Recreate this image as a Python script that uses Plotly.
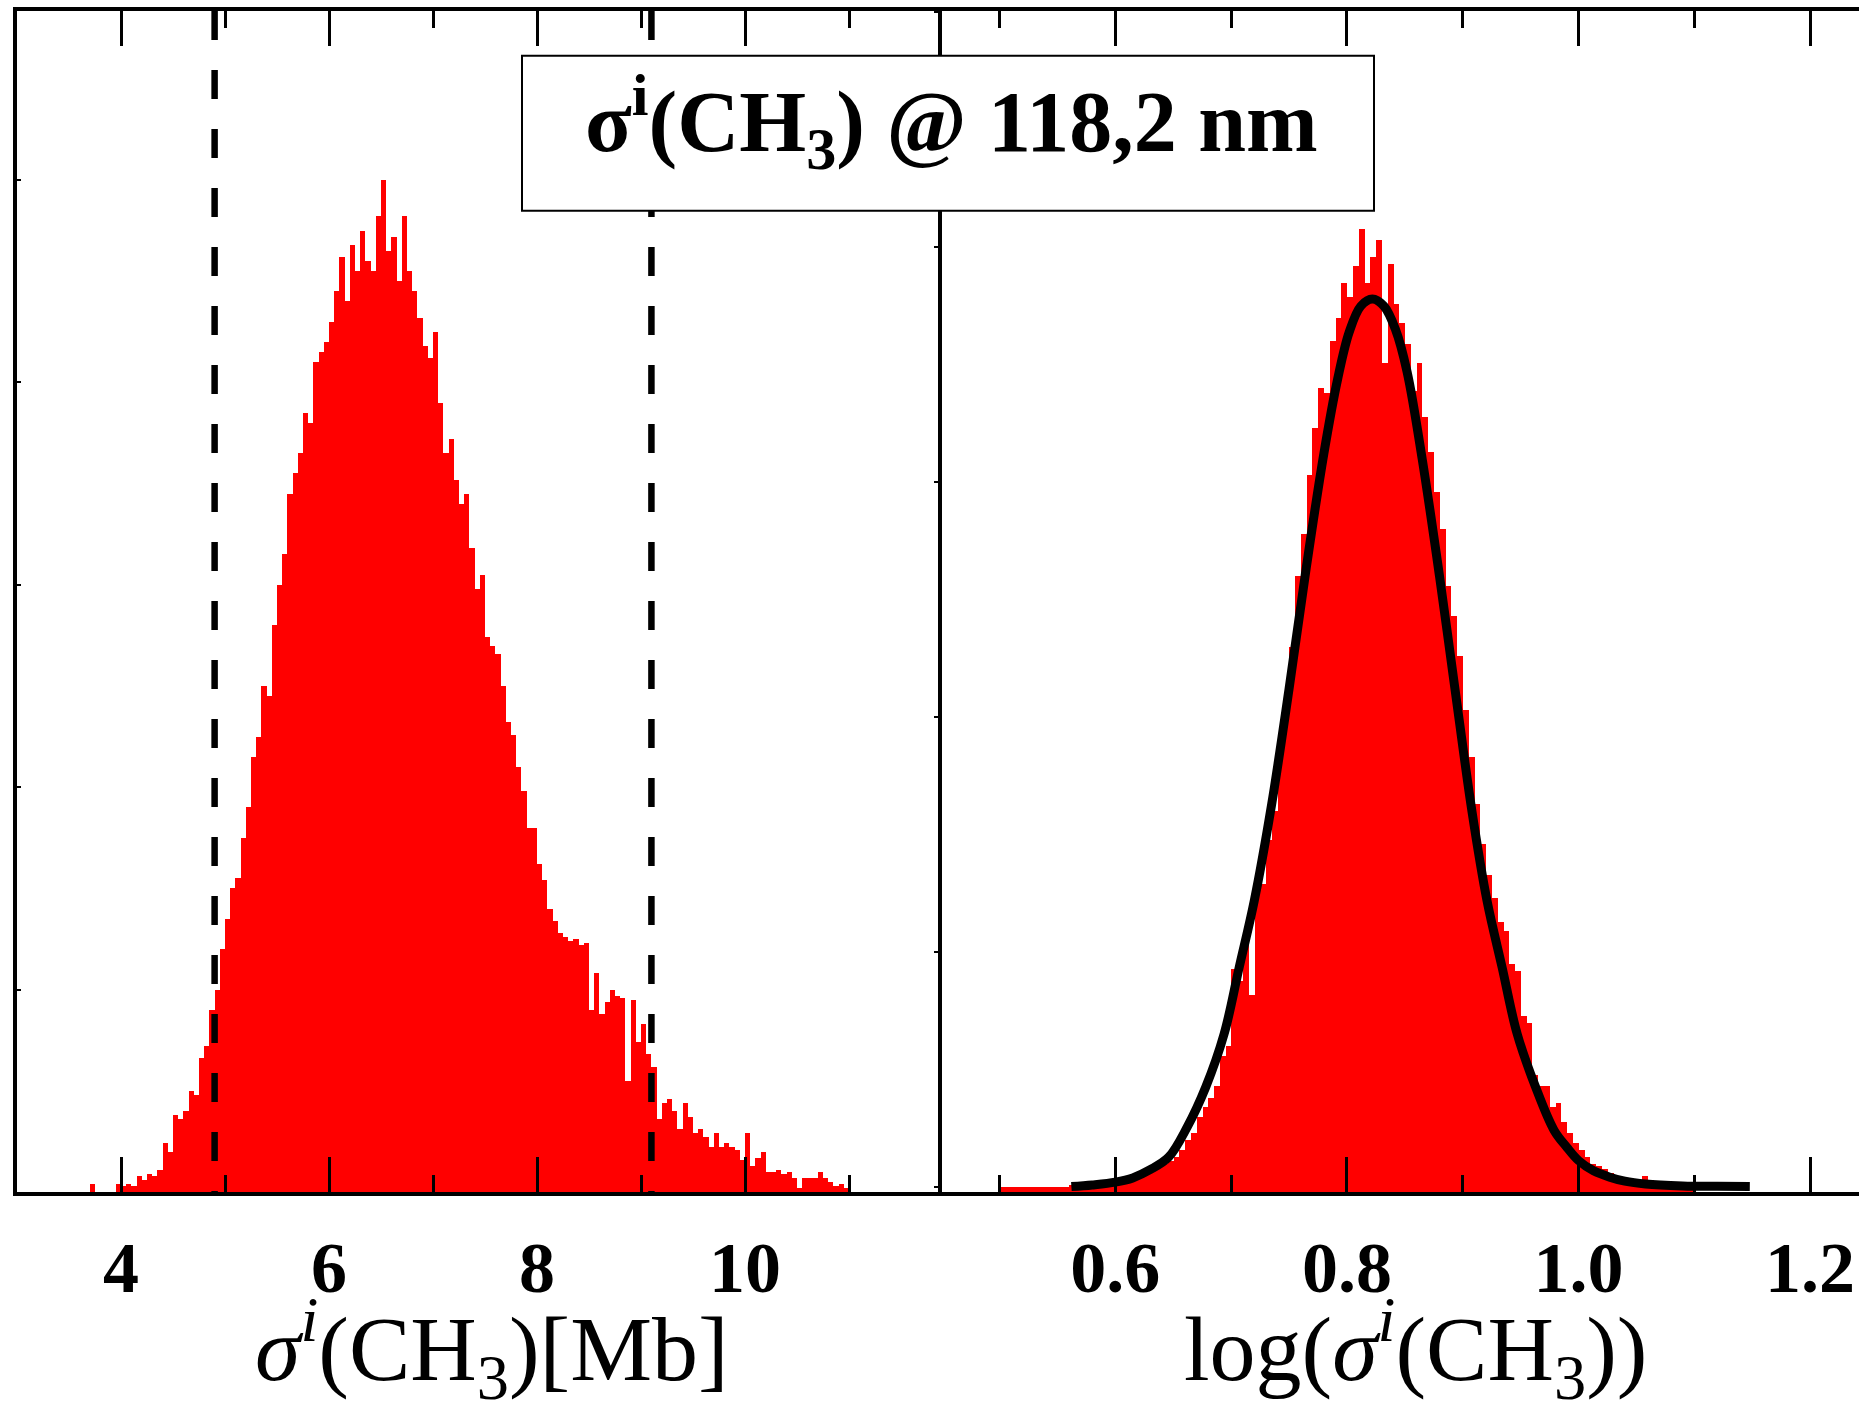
import numpy as np
import plotly.graph_objects as go

# ---------------------------------------------------------------------------
# Data
# ---------------------------------------------------------------------------
# Histogram of sigma^i(CH3) [Mb]: counts per bin, bins of fixed width
SIGMA_BIN_START = 3.65
SIGMA_BIN_WIDTH = 0.05
sigma_counts = [
    0, 4, 0, 0, 0, 0, 4, 3, 4, 3,
    8, 6, 9, 8, 11, 24, 20, 38, 36, 40,
    50, 48, 66, 72, 90, 100, 120, 135, 150, 155,
    175, 190, 215, 225, 250, 245, 280, 300, 315, 345,
    355, 365, 385, 380, 410, 415, 420, 430, 445, 462,
    440, 468, 455, 475, 460, 455, 482, 500, 465, 472,
    450, 482, 455, 445, 432, 418, 412, 425, 390, 365,
    372, 352, 340, 345, 318, 298, 305, 274, 270, 266,
    250, 232, 226, 210, 198, 180, 180, 162, 154, 140,
    134, 128, 126, 124, 125, 122, 123, 90, 108, 88,
    94, 100, 97, 96, 55, 95, 74, 83, 68, 62,
    36, 44, 46, 40, 31, 44, 37, 29, 31, 27,
    22, 29, 22, 24, 22, 21, 16, 29, 13, 17,
    20, 10, 10, 11, 9, 10, 7, 2, 7, 7,
    7, 10, 7, 5, 3, 4, 2,
]

# Histogram of log(sigma^i(CH3))
LOG_BIN_START = 0.500
LOG_BIN_WIDTH = 0.005
log_counts = [
    2, 2, 2, 2, 2, 2, 2, 2, 2, 2,
    2, 2, 3, 3, 3, 3, 4, 4, 4, 5,
    5, 6, 6, 7, 7, 8, 10, 11, 12, 13,
    15, 18, 22, 25, 32, 36, 40, 45, 58, 62,
    95, 90, 107, 84, 128, 131, 150, 162, 190, 212,
    232, 262, 280, 305, 325, 342, 340, 362, 372, 387,
    381, 394, 410, 387, 398, 405, 353, 395, 378, 370,
    361, 341, 353, 330, 315, 298, 282, 258, 245, 228,
    205, 185, 165, 148, 135, 125, 115, 111, 97, 94,
    75, 72, 50, 45, 45, 36, 38, 30, 25, 21,
    18, 15, 12, 11, 10, 8, 7, 6, 6, 4,
    5, 7, 5, 4, 3, 2, 2, 2, 1, 1,
]

# Gaussian fit of the log histogram (points along the fitted curve)
fit_x = [0.562, 0.580, 0.600, 0.615, 0.630, 0.646, 0.662, 0.678, 0.694, 0.707,
         0.720, 0.735, 0.750, 0.765, 0.780, 0.792, 0.802, 0.812, 0.822, 0.832,
         0.842, 0.852, 0.865, 0.880, 0.895, 0.908, 0.921, 0.934, 0.947, 0.963,
         0.979, 0.990, 1.000, 1.013, 1.027, 1.040, 1.058, 1.090, 1.120, 1.148]
fit_y = [2.3, 3.0, 4.2, 6.0, 9.5, 14.8, 27.6, 44.6, 67.4, 95.7,
         124, 165, 214, 266, 314, 346, 366, 377, 380, 377,
         367, 349, 312, 262, 208, 162, 124, 95.7, 67.4, 44.6,
         26.2, 19.0, 13.4, 9.0, 6.3, 4.6, 3.4, 2.6, 2.4, 2.3]

# Interval bounds marked by dashed lines [Mb]
interval_bounds = [4.90, 9.10]

sigma_ticks = [4, 6, 8, 10]
sigma_minor_ticks = [5, 7, 9, 11]
log_ticks = [0.6, 0.8, 1.0, 1.2]
log_tick_text = ["0.6", "0.8", "1.0", "1.2"]
log_minor_ticks = [0.5, 0.7, 0.9, 1.1]

title_text = "<b>σ<sup>i</sup>(CH<sub>3</sub>) @ 118,2 nm</b>"
xtitle_left = "<i>σ</i><sup><i>i</i></sup>(CH<sub>3</sub>)[Mb]"
xtitle_right = "log(<i>σ</i><sup><i>i</i></sup>(CH<sub>3</sub>))"

# ---------------------------------------------------------------------------
# Layout geometry (pixels)
# ---------------------------------------------------------------------------
W, H = 1859, 1424
M_L, M_R, M_T, M_B = 17, 0, 11, 232
PW = W - M_L - M_R
PH = H - M_T - M_B


def paper_x(px):
    return (px - M_L) / PW


def paper_y(py):
    return (H - M_B - py) / PH


SPLIT = paper_x(941.7)
Y1_MAX = 583.5
Y2_MAX = 502.6

FONT = "Liberation Serif"

sigma_centers = SIGMA_BIN_START + SIGMA_BIN_WIDTH * (np.arange(len(sigma_counts)) + 0.5)
log_centers = LOG_BIN_START + LOG_BIN_WIDTH * (np.arange(len(log_counts)) + 0.5)

fig = go.Figure()

fig.add_trace(go.Bar(
    x=sigma_centers, y=sigma_counts, width=SIGMA_BIN_WIDTH,
    marker=dict(color="#ff0000", line=dict(width=0)),
    xaxis="x", yaxis="y", hoverinfo="skip",
))

for b in interval_bounds:
    fig.add_trace(go.Scatter(
        x=[b, b], y=[Y1_MAX, 0], mode="lines",
        line=dict(color="black", width=6.5, dash="29px,30px"),
        xaxis="x", yaxis="y", hoverinfo="skip",
    ))

fig.add_trace(go.Bar(
    x=log_centers, y=log_counts, width=LOG_BIN_WIDTH,
    marker=dict(color="#ff0000", line=dict(width=0)),
    xaxis="x2", yaxis="y2", hoverinfo="skip",
))

fig.add_trace(go.Scatter(
    x=fit_x, y=fit_y, mode="lines",
    line=dict(color="black", width=9, shape="spline", smoothing=1.0),
    xaxis="x2", yaxis="y2", hoverinfo="skip",
))

tickfont = dict(family=FONT, size=72, color="black", weight="bold")

common_x = dict(
    ticks="inside", ticklen=35, tickwidth=3, tickcolor="black",
    showline=True, linewidth=3.5, linecolor="black", mirror="ticks",
    showgrid=False, zeroline=False, tickfont=tickfont,
    ticklabelstandoff=10,
)

fig.update_layout(
    width=W, height=H,
    margin=dict(l=M_L, r=M_R, t=M_T, b=M_B, pad=0),
    paper_bgcolor="white", plot_bgcolor="white",
    showlegend=False, bargap=0, barmode="overlay",
    xaxis=dict(
        domain=[0, SPLIT], range=[3.0, 11.891], anchor="y",
        tickvals=sigma_ticks, ticktext=[str(t) for t in sigma_ticks],
        minor=dict(tickvals=sigma_minor_ticks, ticks="inside", ticklen=17,
                   tickwidth=2.5, tickcolor="black", showgrid=False),
        **common_x,
    ),
    yaxis=dict(
        domain=[0, 1], range=[0, Y1_MAX], anchor="x",
        tick0=0, dtick=100, showticklabels=False,
        ticks="inside", ticklen=4, tickwidth=1.5, tickcolor="black",
        showline=True, linewidth=3.5, linecolor="black", mirror=False,
        showgrid=False, zeroline=False,
    ),
    xaxis2=dict(
        domain=[SPLIT, 1], range=[0.45, 1.2423], anchor="y2",
        tickvals=log_ticks, ticktext=log_tick_text,
        minor=dict(tickvals=log_minor_ticks, ticks="inside", ticklen=17,
                   tickwidth=2.5, tickcolor="black", showgrid=False),
        **common_x,
    ),
    yaxis2=dict(
        domain=[0, 1], range=[0, Y2_MAX], anchor="x2",
        tick0=2, dtick=100, showticklabels=False,
        ticks="outside", ticklen=4, tickwidth=1.5, tickcolor="black",
        showline=True, linewidth=3.5, linecolor="black", mirror=False,
        showgrid=False, zeroline=False,
    ),
)

# Boxed title
fig.add_shape(
    type="rect", xref="paper", yref="paper", layer="above",
    x0=paper_x(522), x1=paper_x(1374), y0=paper_y(210.7), y1=paper_y(55.7),
    line=dict(color="black", width=2), fillcolor="white",
)
fig.add_annotation(
    text=title_text, xref="paper", yref="paper",
    x=paper_x(951), y=paper_y(122), xanchor="center", yanchor="middle",
    showarrow=False, font=dict(family=FONT, size=86, color="black"),
)

# Axis titles
fig.add_annotation(
    text=xtitle_left, xref="paper", yref="paper",
    x=paper_x(492), y=paper_y(1348), xanchor="center", yanchor="middle",
    showarrow=False, font=dict(family=FONT, size=92, color="black"),
)
fig.add_annotation(
    text=xtitle_right, xref="paper", yref="paper",
    x=paper_x(1415), y=paper_y(1348), xanchor="center", yanchor="middle",
    showarrow=False, font=dict(family=FONT, size=92, color="black"),
)

fig.write_html("out.html")
